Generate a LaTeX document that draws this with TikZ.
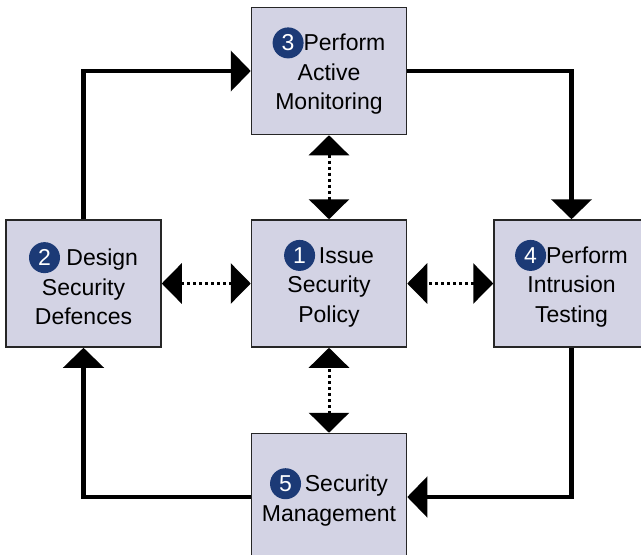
\documentclass[tikz,border=0pt]{standalone}
\usepackage{fontspec}
\setmainfont{Liberation Sans}
\usetikzlibrary{arrows.meta, positioning}
\definecolor{boxFill}{RGB}{211,211,228}
\definecolor{numBlue}{RGB}{28,58,118}
\newcommand\stepnum[1]{\tikz[baseline=(d.base)]\node[numDot](d){#1};}

\begin{document}
\begin{tikzpicture}[x=1pt, y=-1pt,
              secBlock/.style={
                draw=black!85, line width=1.5pt, fill=boxFill,
                minimum width=155pt, minimum height=127pt,
                align=center, font=\fontsize{23}{29.5}\selectfont
             },
              numDot/.style={
                circle, draw=none, fill=numBlue, text=white, inner sep=0pt,
                minimum size=31pt, font=\fontsize{23}{29.5}\selectfont
             },
              flowArrow/.style={line width=4.5pt, -{Triangle[length=20pt, width=40pt]}},
              linkArrow/.style={line width=3pt, dash pattern=on 3pt off 3pt,
                {Triangle[length=20pt, width=40pt]}-{Triangle[length=20pt, width=40pt]}} ]
              \useasboundingbox (0,0) rectangle (641,555);
              \node[secBlock](pol) at (329,283.5){\stepnum{1}\,Issue\\Security\\Policy};
              \node[secBlock, left=89pt of pol](def){\stepnum{2} Design\\Security\\Defences};
              \node[secBlock, above=84pt of pol](mon){\stepnum{3}Perform\\Active\\Monitoring};
              \node[secBlock, right=86pt of pol](intr){\stepnum{4}Perform\\Intrusion\\Testing};
              \node[secBlock, below=85pt of pol](mgmt){\stepnum{5}\,Security\\Management};
              % main cycle
              \draw[flowArrow] (def.north) |- (mon.west);
              \draw[flowArrow] (mon.east) -| (intr.north);
              \draw[flowArrow] (intr.south) |- (mgmt.east);
              \draw[flowArrow] (mgmt.west) -| (def.south);
              % links to the policy
              \draw[linkArrow] (mon) -- (pol);
              \draw[linkArrow] (def) -- (pol);
              \draw[linkArrow] (intr) -- (pol);
              \draw[linkArrow] (mgmt) -- (pol);
            \end{tikzpicture}
\end{document}
